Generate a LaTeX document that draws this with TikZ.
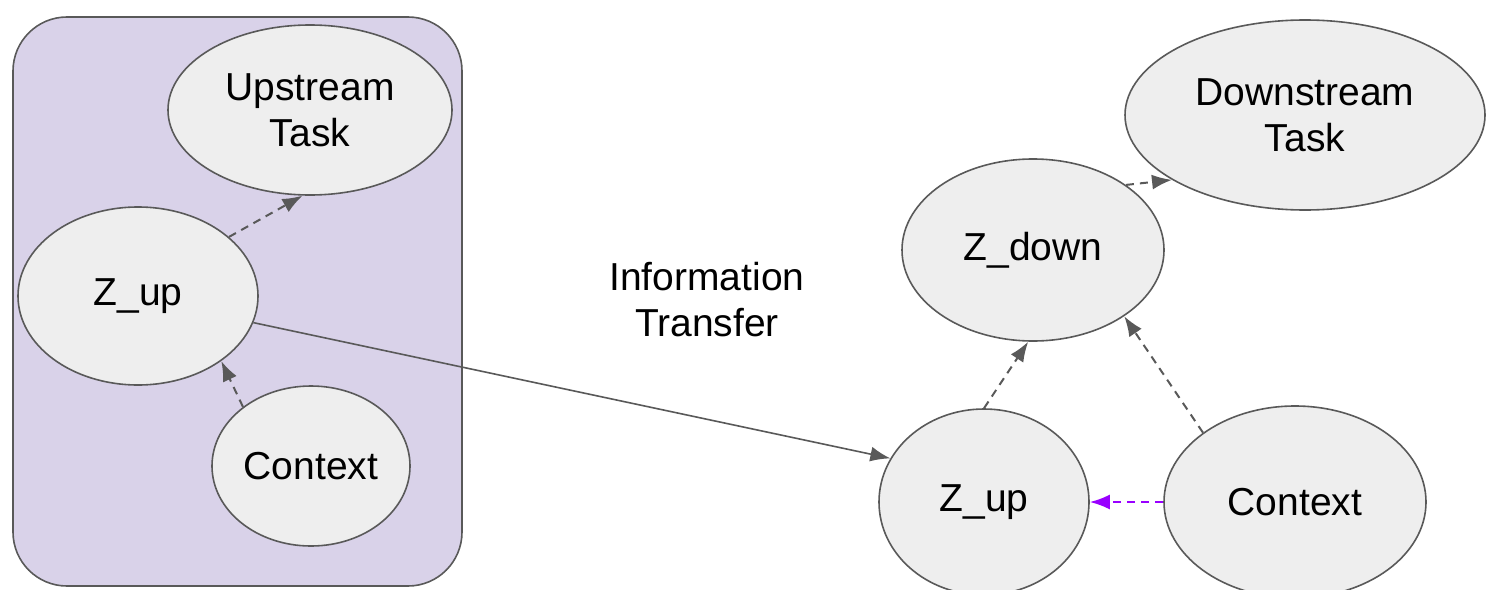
\documentclass[tikz,border=0pt]{standalone}
\usepackage{fontspec}
\setmainfont{Liberation Sans}
\usetikzlibrary{arrows.meta,shapes.geometric}
\definecolor{nodegray}{HTML}{EEEEEE}
\definecolor{linegray}{HTML}{595959}
\definecolor{boxpurple}{HTML}{D9D2E9}
\definecolor{ctxpurple}{HTML}{9900FF}
\tikzset{
  bigfont/.style = {font=\fontsize{19.5}{23}\selectfont}
}

\begin{document}
\begin{tikzpicture}[x=0.5pt, y=-0.5pt, bigfont,
  var/.style   = {ellipse, draw=linegray, fill=nodegray, line width=0.8pt, align=center, inner sep=0pt},
  group/.style = {draw=linegray, fill=boxpurple, line width=0.8pt, rounded corners=27pt},
  dep/.style   = {linegray, line width=1pt, dash pattern=on 4pt off 3pt, -{Latex[length=10pt, width=7.5pt]}},
  flow/.style  = {linegray, line width=0.8pt, -{Latex[length=10pt, width=7.5pt]}},
  ctx/.style   = {ctxpurple, line width=1pt, dash pattern=on 4pt off 3pt, -{Latex[length=10pt, width=7.5pt]}},
  ]
  \useasboundingbox (0,0) rectangle (1487,589);
  % upstream side
  \draw[group] (13,17) rectangle (462,586);
  \node[var, minimum width=142pt, minimum height=85pt] (up)  at (310,110) {Upstream\\Task};
  \node[var, minimum width=120pt, minimum height=89pt] (zu1) at (138,296) {Z\_up};
  \node[var, minimum width=99pt,  minimum height=80pt] (cx1) at (311,466) {Context};
  % downstream side
  \node[var, minimum width=180pt, minimum height=95pt] (down) at (1305,115) {Downstream\\Task};
  \node[var, minimum width=131pt, minimum height=91pt] (zd)   at (1033,250) {Z\_down};
  \node[var, minimum width=105pt, minimum height=93pt] (zu2)  at (984,502)  {Z\_up};
  \node[var, minimum width=131pt, minimum height=96pt] (cx2)  at (1295,502) {Context};
  % labels
  \node[align=center] (info) at (707,300) {Information\\Transfer};
  % edges
  \draw[dep]  (zu1.33)  -- (up.-95);
  \draw[dep]  (cx1.139) -- (zu1.-38);
  \draw[flow] (zu1.-13) -- (zu2.155);
  \draw[dep]  (zd.35)   -- (down.206);
  \draw[dep]  (zu2.90)  -- (zd.-93);
  \draw[dep]  (cx2.143) -- (zd.-36);
  \draw[ctx]  (cx2.180) -- (zu2.0);
\end{tikzpicture}
\end{document}
